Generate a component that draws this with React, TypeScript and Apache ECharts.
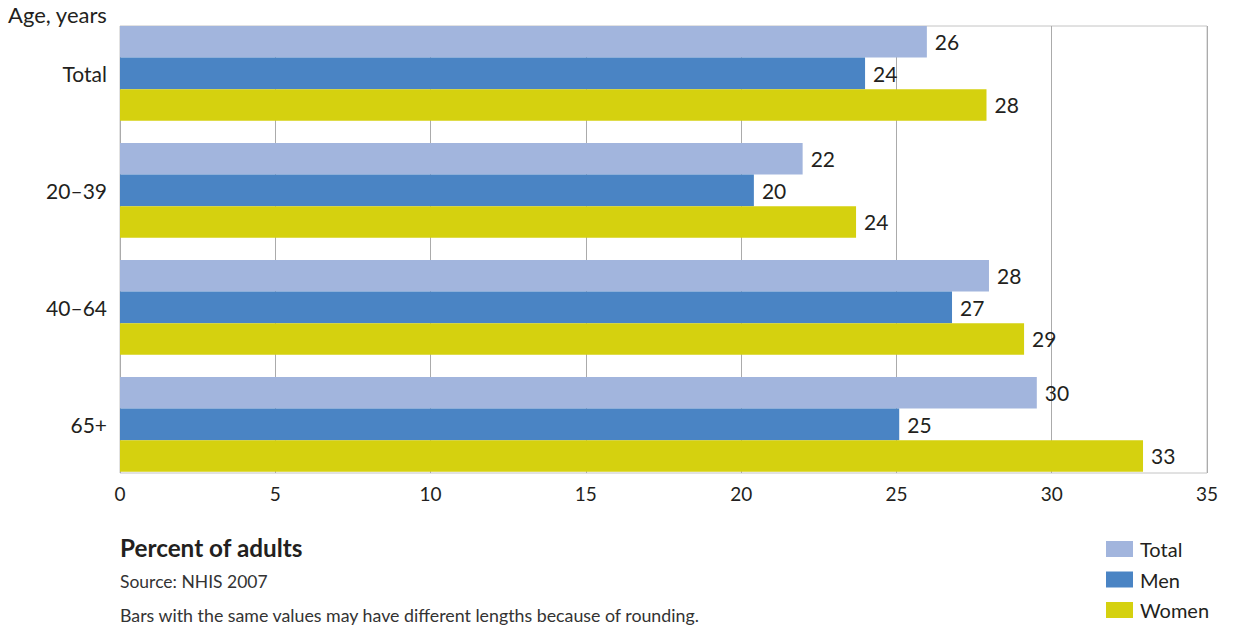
import React, { useEffect, useRef } from "react";
import * as echarts from "echarts";

const categories = ["Total", "20–39", "40–64", "65+"];
const seriesNames = ["Total", "Men", "Women"];
// bar lengths (unrounded, as drawn)
const totalValues = [25.98, 21.98, 27.98, 29.52];
const menValues = [23.99, 20.41, 26.79, 25.09];
const womenValues = [27.9, 23.7, 29.11, 32.94];
// printed (rounded) labels
const totalLabels = ["26", "22", "28", "30"];
const menLabels = ["24", "20", "27", "25"];
const womenLabels = ["28", "24", "29", "33"];
const xTicks = [0, 5, 10, 15, 20, 25, 30, 35];

const colors = ["#a2b5dd", "#4a84c4", "#d5d10f"];
const FONT = "Lato, 'Open Sans', sans-serif";
const TXT = "#231f20";

export default function App() {
  const ref = useRef<HTMLDivElement>(null);
  useEffect(() => {
    if (!ref.current) return;
    const chart = echarts.init(ref.current, null, { renderer: "svg" });
    const values = [totalValues, menValues, womenValues];
    const labels = [totalLabels, menLabels, womenLabels];
    const option: any = {
      animation: false,
      textStyle: { fontFamily: FONT, color: TXT },
      grid: [
        { left: 120, right: 27, top: 26, height: 447, show: true, borderColor: "#c4c4c4", borderWidth: 1, backgroundColor: "transparent" },
        { left: 120, right: 27, top: 14.85, height: 468 },
      ],
      xAxis: [
        {
          gridIndex: 0,
          type: "value",
          min: xTicks[0],
          max: xTicks[xTicks.length - 1],
          interval: 5,
          axisLine: { show: false },
          axisTick: { show: false },
          axisLabel: { fontSize: 19, color: TXT, margin: 11, fontFamily: FONT },
          splitLine: { show: true, lineStyle: { color: "#ababab", width: 1 } },
        },
        {
          gridIndex: 1,
          type: "value",
          min: xTicks[0],
          max: xTicks[xTicks.length - 1],
          show: false,
          splitLine: { show: false },
        },
      ],
      yAxis: [
        { gridIndex: 0, type: "category", data: categories, show: false },
        {
          gridIndex: 1,
          type: "category",
          data: categories,
          inverse: true,
          axisLine: { show: false },
          axisTick: { show: false },
          axisLabel: { fontSize: 21, color: TXT, margin: 13, fontFamily: FONT },
        },
      ],
      legend: {
        orient: "vertical",
        left: 1101,
        top: 534,
        height: 96,
        itemWidth: 27,
        itemHeight: 16,
        itemGap: 10.5,
        icon: "rect",
        data: seriesNames,
        textStyle: { fontSize: 20, color: TXT, fontFamily: FONT, padding: [0, 0, 0, 2] },
      },
      series: seriesNames.map((name, i) => ({
        name,
        type: "bar",
        xAxisIndex: 1,
        yAxisIndex: 1,
        data: values[i],
        barWidth: 31.6,
        barGap: "0%",
        itemStyle: { color: colors[i] },
        z: 3,
        label: {
          show: true,
          position: "right",
          distance: 8,
          fontSize: 21,
          color: TXT,
          fontFamily: FONT,
          formatter: (p: any) => labels[i][p.dataIndex],
        },
      })),
      graphic: [
        { type: "text", left: 8, top: 3, style: { text: "Age, years", fontSize: 22, fill: TXT, fontFamily: FONT } },
        { type: "text", left: 120, top: 535, style: { text: "Percent of adults", fontSize: 24.3, fontWeight: "bold", fill: TXT, fontFamily: FONT } },
        { type: "text", left: 120, top: 572, style: { text: "Source: NHIS 2007", fontSize: 17.5, fill: "#333", fontFamily: FONT } },
        { type: "text", left: 120, top: 606, style: { text: "Bars with the same values may have different lengths because of rounding.", fontSize: 17.8, fill: "#333", fontFamily: FONT } },
      ],
    };
    chart.setOption(option);
    return () => chart.dispose();
  }, []);
  return <div ref={ref} style={{ position: "fixed", left: 0, top: 0, width: 1234, height: 630, background: "#fff" }} />;
}
